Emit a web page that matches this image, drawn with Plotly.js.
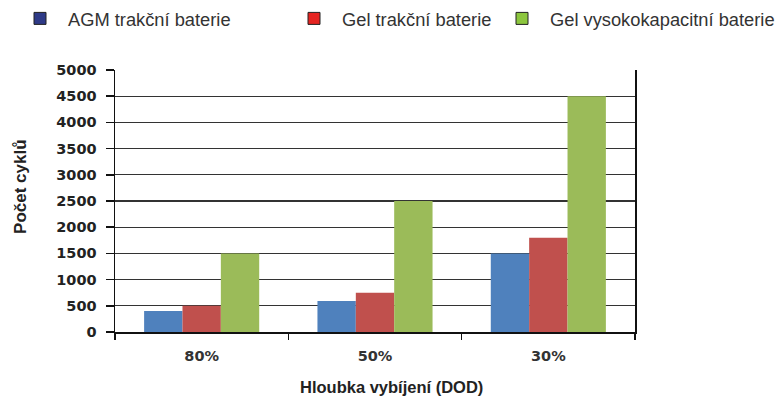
<!DOCTYPE html>
<html>
<head>
<meta charset="utf-8">
<script src="https://cdn.plot.ly/plotly-3.0.1.min.js"></script>
<style>html,body{margin:0;padding:0;background:#fff}#chart{width:776px;height:401px}</style>
</head>
<body>
<div id="chart"></div>
<script>
const categories = ['80%', '50%', '30%'];
const seriesNames = ['AGM trakční baterie', 'Gel trakční baterie', 'Gel vysokokapacitní baterie'];
const agmValues = [400, 590, 1500];
const gelValues = [500, 750, 1800];
const gelHighValues = [1500, 2500, 4500];
const yTickValues = [0, 500, 1000, 1500, 2000, 2500, 3000, 3500, 4000, 4500, 5000];
const yTitle = 'Počet cyklů';
const xTitle = 'Hloubka vybíjení (DOD)';

const barColors = ['#4f81bd', '#c0504d', '#9bbb59'];
const legendColors = ['#2e3a87', '#e52421', '#8cc63e'];
const seriesValues = [agmValues, gelValues, gelHighValues];
const legendIds = ['legend', 'legend2', 'legend3'];

const traces = [];
seriesValues.forEach((vals, i) => {
  traces.push({
    type: 'bar', x: categories, y: vals, name: seriesNames[i],
    marker: {color: barColors[i], line: {width: 0}},
    showlegend: false, hoverinfo: 'x+y'
  });
});
seriesValues.forEach((vals, i) => {
  traces.push({
    type: 'scatter', mode: 'markers', x: categories, y: categories.map(() => null),
    name: seriesNames[i], legend: legendIds[i], showlegend: true,
    marker: {symbol: 'square', size: 12, color: legendColors[i], line: {color: '#222', width: 1}}
  });
});

const legendFont = {family: 'Liberation Sans, Arial, sans-serif', size: 18.3, color: '#333'};
function mkLegend(xpx) {
  return {xref: 'container', yref: 'container', x: xpx / 776, y: 1.0, xanchor: 'left', yanchor: 'top',
    orientation: 'h', font: legendFont, itemwidth: 46, bgcolor: 'rgba(0,0,0,0)', borderwidth: 0,
    tracegroupgap: 0};
}

const PL = 115, PW = 520.5, PB = 332.3, PH = 262.3;
const layout = {
  width: 776, height: 401,
  margin: {l: 115, r: 140.5, t: 70, b: 68.7, pad: 0},
  paper_bgcolor: '#fff', plot_bgcolor: '#fff',
  barmode: 'group', bargap: 0.336, bargroupgap: 0,
  legend: mkLegend(12), legend2: mkLegend(286), legend3: mkLegend(494),
  xaxis: {
    type: 'category', showgrid: false, showline: true, linecolor: '#111', linewidth: 1.5,
    ticks: 'outside', tickson: 'boundaries', ticklen: 6, tickcolor: '#111', tickwidth: 1.5,
    tickfont: {family: 'DejaVu Sans, Verdana, sans-serif', size: 14.5, color: '#333', weight: 'bold'},
    ticklabelstandoff: 10, zeroline: false
  },
  yaxis: {
    range: [0, 5000], tickvals: yTickValues, ticktext: yTickValues.map(String),
    showgrid: true, gridcolor: '#333', gridwidth: 1.3,
    showline: true, linecolor: '#111', linewidth: 1.5, mirror: true,
    ticks: 'outside', ticklen: 8, tickcolor: '#111', tickwidth: 1.5,
    tickfont: {family: 'DejaVu Sans, Verdana, sans-serif', size: 14.5, color: '#222', weight: 'bold'},
    ticklabelstandoff: 6, zeroline: false
  },
  annotations: [
    {text: xTitle, xref: 'paper', yref: 'paper', x: (392 - PL) / PW, y: (PB - 387) / PH,
     xanchor: 'center', yanchor: 'middle', showarrow: false,
     font: {family: 'Liberation Sans, Arial, sans-serif', size: 16.5, color: '#222', weight: 'bold'}},
    {text: yTitle, xref: 'paper', yref: 'paper', x: (20.5 - PL) / PW, y: (PB - 186.5) / PH,
     xanchor: 'center', yanchor: 'middle', showarrow: false, textangle: -90,
     font: {family: 'Liberation Sans, Arial, sans-serif', size: 17, color: '#222', weight: 'bold'}}
  ],
  font: {family: 'Liberation Sans, Arial, sans-serif'}
};

Plotly.newPlot('chart', traces, layout, {displayModeBar: false, staticPlot: true});
</script>
</body>
</html>
